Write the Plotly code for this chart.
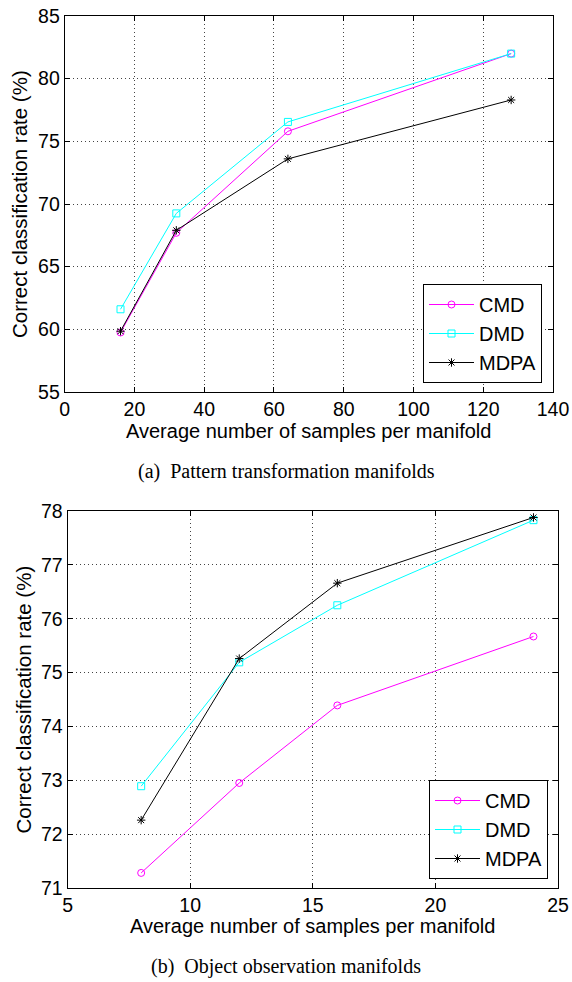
import plotly.graph_objects as go

# ---------------- data ----------------
# (a) Pattern transformation manifolds
x_a = [16, 32, 64, 128]
cmd_a = [59.75, 67.7, 75.8, 82.0]
dmd_a = [61.6, 69.25, 76.55, 82.0]
mdpa_a = [59.85, 67.9, 73.6, 78.3]

# (b) Object observation manifolds
x_b = [8, 12, 16, 24]
cmd_b = [71.28, 72.95, 74.39, 75.67]
dmd_b = [72.89, 75.19, 76.25, 77.83]
mdpa_b = [72.26, 75.26, 76.66, 77.88]

series_names = ["CMD", "DMD", "MDPA"]
caption_a = "(a)\u00a0 Pattern transformation manifolds"
caption_b = "(b)\u00a0 Object observation manifolds"
x_title = "Average number of samples per manifold"
y_title = "Correct classification rate (%)"

# ---------------- style ----------------
W, H = 572, 982
SANS = "Liberation Sans, Arial, Helvetica, sans-serif"
SERIF = "Liberation Serif, Times New Roman, serif"
colors = ["#ff00ff", "#00ffff", "#000000"]
symbols = ["circle-open", "square-open", "asterisk-open"]
msizes = [7, 7, 7]

def px_x(p):
    return p / W

def px_y(p):
    return 1 - p / H

# plot area pixel boxes
A = dict(l=64.7, r=553, t=16, b=392)
B = dict(l=67.6, r=558, t=511, b=888)

fig = go.Figure()

for i, (name, ys) in enumerate(zip(series_names, [cmd_a, dmd_a, mdpa_a])):
    fig.add_trace(go.Scatter(
        x=x_a, y=ys, name=name, mode="lines+markers",
        line=dict(color=colors[i], width=1),
        marker=dict(symbol=symbols[i], size=msizes[i], color=colors[i],
                    line=dict(color=colors[i], width=1)),
        xaxis="x", yaxis="y", legend="legend"))

for i, (name, ys) in enumerate(zip(series_names, [cmd_b, dmd_b, mdpa_b])):
    fig.add_trace(go.Scatter(
        x=x_b, y=ys, name=name, mode="lines+markers",
        line=dict(color=colors[i], width=1),
        marker=dict(symbol=symbols[i], size=msizes[i], color=colors[i],
                    line=dict(color=colors[i], width=1)),
        xaxis="x2", yaxis="y2", legend="legend2"))

axis_common = dict(
    showline=True, linecolor="black", linewidth=1, mirror="ticks",
    ticks="inside", ticklen=5, tickwidth=1, tickcolor="black",
    showgrid=True, gridcolor="#444444", gridwidth=1, griddash="1px,3px",
    zeroline=False, tickfont=dict(family=SANS, size=19.5, color="black"),
    automargin=False, fixedrange=True,
)

fig.update_layout(
    width=W, height=H,
    margin=dict(l=0, r=0, t=0, b=0),
    paper_bgcolor="white", plot_bgcolor="white",
    font=dict(family=SANS, size=20, color="black"),
    xaxis=dict(axis_common, domain=[px_x(A["l"]), px_x(A["r"])], range=[0, 140],
               dtick=20, tick0=0, anchor="y"),
    yaxis=dict(axis_common, domain=[px_y(A["b"]), px_y(A["t"])], range=[55, 85],
               dtick=5, tick0=55, anchor="x"),
    xaxis2=dict(axis_common, domain=[px_x(B["l"]), px_x(B["r"])], range=[5, 25],
                dtick=5, tick0=5, anchor="y2"),
    yaxis2=dict(axis_common, domain=[px_y(B["b"]), px_y(B["t"])], range=[71, 78],
                dtick=1, tick0=71, anchor="x2"),
    legend=dict(x=px_x(542), y=px_y(383), xanchor="right", yanchor="bottom",
                bgcolor="white", bordercolor="black", borderwidth=1,
                font=dict(family=SANS, size=20, color="black"), itemwidth=45,
                tracegroupgap=0),
    legend2=dict(x=px_x(548), y=px_y(879), xanchor="right", yanchor="bottom",
                 bgcolor="white", bordercolor="black", borderwidth=1,
                 font=dict(family=SANS, size=20, color="black"), itemwidth=45,
                 tracegroupgap=0),
    showlegend=True,
)

annotations = [
    dict(text=x_title, x=px_x((A["l"] + A["r"]) / 2), y=px_y(431),
         font=dict(family=SANS, size=20)),
    dict(text=x_title, x=px_x((B["l"] + B["r"]) / 2), y=px_y(926),
         font=dict(family=SANS, size=20)),
    dict(text=y_title, x=px_x(20), y=px_y((A["t"] + A["b"]) / 2), textangle=-90,
         font=dict(family=SANS, size=20.5)),
    dict(text=y_title, x=px_x(23), y=px_y((B["t"] + B["b"]) / 2), textangle=-90,
         font=dict(family=SANS, size=20.5)),
    dict(text=caption_a, x=0.5, y=px_y(471), font=dict(family=SERIF, size=20)),
    dict(text=caption_b, x=0.5, y=px_y(966), font=dict(family=SERIF, size=20)),
]
for a in annotations:
    a.update(xref="paper", yref="paper", showarrow=False,
             xanchor="center", yanchor="middle")
fig.update_layout(annotations=annotations)

fig.write_html("out.html",
               config={"displayModeBar": False, "staticPlot": True},
               post_script="document.body.style.margin='0px';"
                           "document.body.style.overflow='hidden';")
